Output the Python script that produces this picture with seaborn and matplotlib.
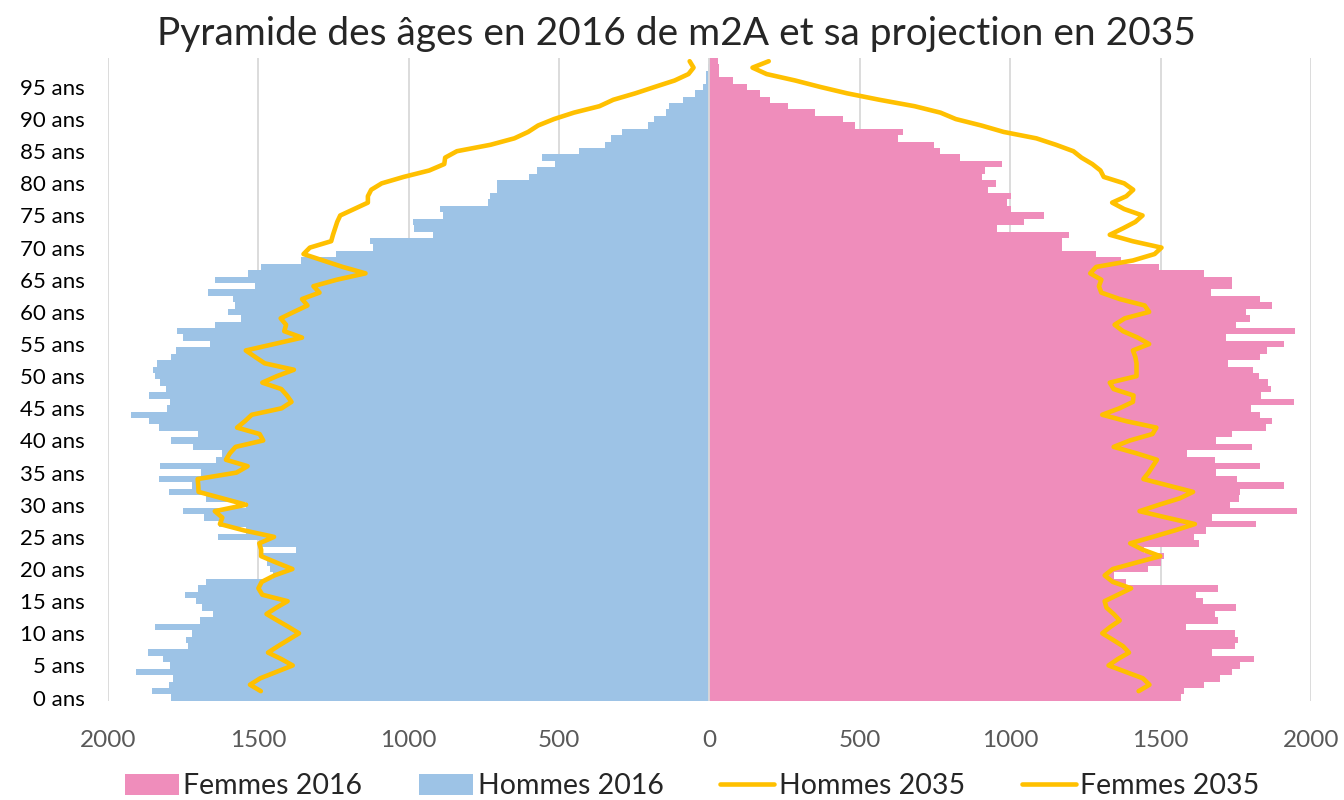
import numpy as np
import pandas as pd
import matplotlib
matplotlib.use('Agg')
import matplotlib.pyplot as plt
import seaborn as sns

# ── données ───────────────────────────────────────────────────────────────────
ages = list(range(0, 100))

hommes_2016 = [
    1792, 1853, 1799, 1785, 1907, 1794, 1816, 1866, 1733, 1740,
    1721, 1843, 1695, 1651, 1688, 1708, 1743, 1702, 1675, 1452,
    1460, 1473, 1485, 1376, 1497, 1636, 1540, 1631, 1681, 1750,
    1540, 1674, 1797, 1721, 1830, 1690, 1828, 1640, 1620, 1718,
    1790, 1700, 1829, 1864, 1925, 1804, 1795, 1863, 1807, 1826,
    1844, 1852, 1837, 1791, 1775, 1661, 1752, 1770, 1644, 1559,
    1600, 1578, 1586, 1666, 1510, 1646, 1536, 1491, 1357, 1243,
    1118, 1129, 920, 982, 987, 885, 896, 738, 729, 707,
    707, 600, 572, 513, 558, 434, 346, 328, 290, 205,
    183, 145, 134, 87, 47, 20, 13, 13, 6, 3,
]

femmes_2016 = [
    1567, 1579, 1643, 1699, 1737, 1765, 1810, 1672, 1748, 1759,
    1748, 1586, 1690, 1680, 1752, 1641, 1617, 1692, 1386, 1344,
    1458, 1503, 1510, 1444, 1627, 1611, 1650, 1816, 1672, 1952,
    1730, 1760, 1765, 1910, 1755, 1683, 1830, 1681, 1589, 1804,
    1683, 1737, 1852, 1872, 1830, 1802, 1944, 1835, 1866, 1858,
    1827, 1808, 1725, 1832, 1854, 1912, 1718, 1948, 1752, 1796,
    1785, 1871, 1830, 1669, 1738, 1738, 1644, 1495, 1370, 1284,
    1173, 1173, 1194, 957, 1046, 1112, 1002, 988, 1002, 925,
    953, 906, 917, 972, 832, 765, 747, 628, 643, 484,
    444, 351, 261, 202, 167, 125, 77, 31, 31, 27,
]

ages_2035 = list(range(1, 100))

hommes_2035 = [
    1492, 1528, 1494, 1440, 1386, 1424, 1468, 1435, 1400,
    1365, 1400, 1437, 1473, 1440, 1403, 1487, 1500, 1489, 1447,
    1387, 1440, 1491, 1491, 1497, 1448, 1547, 1628, 1620, 1645,
    1541, 1620, 1699, 1700, 1702, 1573, 1536, 1608, 1595, 1576,
    1484, 1496, 1571, 1545, 1522, 1423, 1390, 1405, 1424, 1487,
    1439, 1382, 1479, 1511, 1542, 1448, 1355, 1414, 1408, 1426,
    1382, 1337, 1355, 1297, 1317, 1240, 1144, 1220, 1285, 1350,
    1329, 1258, 1252, 1245, 1238, 1228, 1182, 1136, 1136, 1125,
    1090, 1017, 932, 882, 879, 840, 728, 649, 603, 570,
    517, 451, 366, 320, 247, 182, 116, 70, 53, 66,
]

femmes_2035 = [
    1427, 1463, 1441, 1384, 1327, 1358, 1395, 1375, 1341,
    1306, 1333, 1364, 1344, 1320, 1314, 1358, 1402, 1341, 1314,
    1341, 1419, 1499, 1441, 1399, 1474, 1547, 1614, 1520, 1430,
    1495, 1564, 1608, 1525, 1443, 1460, 1474, 1488, 1420, 1344,
    1398, 1473, 1486, 1386, 1306, 1363, 1408, 1410, 1344, 1331,
    1420, 1420, 1420, 1416, 1408, 1462, 1424, 1375, 1347, 1381,
    1462, 1447, 1364, 1303, 1295, 1303, 1266, 1286, 1408, 1480,
    1503, 1407, 1331, 1375, 1416, 1440, 1379, 1339, 1386, 1409,
    1379, 1311, 1300, 1273, 1237, 1210, 1152, 1087, 978, 904,
    819, 768, 682, 565, 458, 368, 285, 190, 143, 197,
]

ROSE = '#EF8DBB'
BLEU = '#9DC3E6'
ORANGE = '#FFC000'
GRILLE = '#D9D9D9'

sns.set_style('white')
plt.rcParams['font.family'] = ['Lato', 'DejaVu Sans']

df16 = pd.DataFrame({
    'age': ages,
    'hommes': [-v for v in hommes_2016],
    'femmes': femmes_2016,
})
df35 = pd.DataFrame({
    'age': ages_2035,
    'hommes': [-v for v in hommes_2035],
    'femmes': femmes_2035,
})

fig = plt.figure(figsize=(13.44, 8), dpi=100)
ax = fig.add_axes([0.0804, 0.124, 0.8950, 0.8035])

# ── barres 2016 ───────────────────────────────────────────────────────────────
sns.barplot(data=df16, x='femmes', y='age', orient='h', native_scale=True,
            width=1, color=ROSE, saturation=1, linewidth=0,
            label='Femmes 2016', ax=ax)
sns.barplot(data=df16, x='hommes', y='age', orient='h', native_scale=True,
            width=1, color=BLEU, saturation=1, linewidth=0,
            label='Hommes 2016', ax=ax)

ax.axvline(0, color=GRILLE, lw=1.3, zorder=2.5)

# ── courbes 2035 ──────────────────────────────────────────────────────────────
sns.lineplot(data=df35, x='hommes', y='age', sort=False, estimator=None,
             color=ORANGE, lw=3.3, label='Hommes 2035', ax=ax, zorder=3)
sns.lineplot(data=df35, x='femmes', y='age', sort=False, estimator=None,
             color=ORANGE, lw=3.3, label='Femmes 2035', ax=ax, zorder=3)

# ── axes ──────────────────────────────────────────────────────────────────────
ax.set_xlim(-2000, 2000)
ax.set_ylim(-0.5, 99.5)
ticks_x = list(range(-2000, 2001, 500))
ax.set_xticks(ticks_x)
ax.set_xticklabels([str(abs(t)) for t in ticks_x], fontsize=17.5, color='#595959')
ticks_y = list(range(0, 100, 5))
ax.set_yticks(ticks_y)
ax.set_yticklabels([f'{a} ans' for a in ticks_y], fontsize=16, color='black')
ax.tick_params(axis='both', length=0)
ax.tick_params(axis='y', pad=16.5)
ax.tick_params(axis='x', pad=21)
ax.set_xlabel('')
ax.set_ylabel('')
ax.xaxis.grid(True, color=GRILLE, lw=1.3)
ax.yaxis.grid(False)
ax.set_axisbelow(True)
for s in ax.spines.values():
    s.set_visible(False)

if ax.get_legend() is not None:
    ax.get_legend().remove()

fig.text(0.503, 0.958, 'Pyramide des âges en 2016 de m2A et sa projection en 2035',
         ha='center', va='center', fontsize=28)

handles, labels = ax.get_legend_handles_labels()
ordre = ['Femmes 2016', 'Hommes 2016', 'Hommes 2035', 'Femmes 2035']
h = [handles[labels.index(o)] for o in ordre]
fig.legend(h, ordre, loc='center', bbox_to_anchor=(0.515, 0.017), ncol=4,
           frameon=False, fontsize=20.5, handlelength=1.9, handleheight=0.8,
           columnspacing=2.0, handletextpad=0.15)

fig.savefig('out.png', dpi=100)
